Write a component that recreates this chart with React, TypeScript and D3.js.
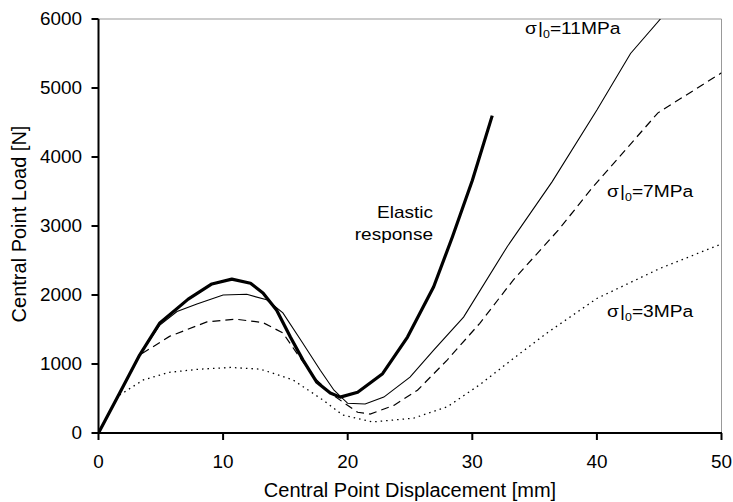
import React from "react";
import * as d3 from "d3";

const xTicks = [0, 10, 20, 30, 40, 50];
const yTicks = [0, 1000, 2000, 3000, 4000, 5000, 6000];

const elasticX = [0, 1.7, 3.3, 4.9, 7.2, 9.1, 10.7, 12.2, 13.2, 14.3, 15.4, 16.4, 17.5, 18.6, 19.4, 20.8, 22.8, 24.8, 26.9, 28.4, 30, 31.6];
const elasticY = [0, 580, 1130, 1590, 1940, 2160, 2230, 2170, 2030, 1780, 1390, 1060, 740, 580, 520, 590, 860, 1390, 2120, 2840, 3660, 4600];

const s11X = [0, 1.7, 3.3, 4.9, 6.3, 7.9, 10, 11.9, 13.5, 14.8, 16.4, 17.8, 18.9, 20, 21.4, 22.9, 25, 26.9, 29.3, 32.8, 36.4, 40, 42.7, 45.1];
const s11Y = [0, 580, 1130, 1560, 1760, 1870, 2000, 2010, 1930, 1740, 1300, 910, 620, 430, 420, 520, 810, 1200, 1680, 2700, 3640, 4680, 5500, 6000];

const s7X = [0, 1.7, 3.3, 5.7, 8.7, 11, 13.2, 14.8, 15.9, 17.5, 18.6, 19.6, 20.8, 21.8, 23.7, 25.6, 28, 30.6, 33.3, 36.9, 39.7, 44.9, 50];
const s7Y = [0, 580, 1130, 1400, 1610, 1650, 1600, 1450, 1160, 770, 580, 450, 300, 275, 400, 620, 1060, 1590, 2220, 2940, 3570, 4640, 5220];

const s3X = [1.7, 3.6, 5.7, 8.1, 10.6, 13, 15.6, 18, 19.6, 22, 25.3, 28, 30.6, 33.3, 36, 40, 45, 50];
const s3Y = [550, 770, 880, 925, 950, 925, 770, 480, 260, 160, 215, 380, 700, 1080, 1450, 1950, 2380, 2740];

const W = 733, H = 502;
const L = 98.5, R = 721.5, T = 19, B = 433;
const FONT = "Liberation Sans, Arial, sans-serif";

function T2({ x, y, anchor = "start", rotate = 0, size = 17, sx = 1, children }: any) {
  return (
    <g transform={`translate(${x},${y}) rotate(${rotate}) scale(${sx},1)`}>
      <text x={0} y={0} textAnchor={anchor} fontSize={size} fontFamily={FONT} fill="#000">
        {children}
      </text>
    </g>
  );
}

export default function App() {
  const x = d3.scaleLinear().domain([0, 50]).range([L, R]);
  const y = d3.scaleLinear().domain([0, 6000]).range([B, T]);
  const line = (xs: number[], ys: number[]) =>
    d3.line<number>().x((_, i) => x(xs[i])).y((d) => y(d)).curve(d3.curveLinear)(ys) || "";
  const sigma = (tx: number, ty: number, val: string) => (
    <T2 x={tx} y={ty} sx={1.13}>
      <tspan>σ</tspan>
      <tspan dx={1}>|</tspan>
      <tspan fontSize={11} dy={4}>0</tspan>
      <tspan dy={-4}>{"=" + val}</tspan>
    </T2>
  );
  return (
    <svg width={W} height={H} style={{ position: "absolute", left: 0, top: 0, background: "#fff" }}>
      <defs>
        <clipPath id="plot">
          <rect x={L} y={T} width={R - L} height={B - T} />
        </clipPath>
      </defs>
      <rect x={0} y={0} width={W} height={H} fill="#fff" />
      <line x1={L} x2={R} y1={T} y2={T} stroke="#999" strokeWidth={1} />
      <line x1={R} x2={R} y1={T} y2={B} stroke="#999" strokeWidth={1} />
      <g clipPath="url(#plot)" fill="none" stroke="#000">
        <path d={line(s3X, s3Y)} strokeWidth={1.3} strokeDasharray="1.5,4" />
        <path d={line(s7X, s7Y)} strokeWidth={1.2} strokeDasharray="8,5" />
        <path d={line(s11X, s11Y)} strokeWidth={1.1} />
        <path d={line(elasticX, elasticY)} strokeWidth={3.2} strokeLinejoin="round" />
      </g>
      <line x1={L} x2={L} y1={T} y2={B + 1} stroke="#000" strokeWidth={2} />
      <line x1={L - 1} x2={R + 0.5} y1={B} y2={B} stroke="#000" strokeWidth={2} />
      {yTicks.map((t) => (
        <g key={"y" + t}>
          <line x1={L - 7} x2={L} y1={y(t)} y2={y(t)} stroke="#000" strokeWidth={2} />
          <T2 x={82} y={y(t) + 6.3} anchor="end" size={17.5} sx={1.08}>{t}</T2>
        </g>
      ))}
      {xTicks.map((t) => (
        <g key={"x" + t}>
          <line x1={x(t)} x2={x(t)} y1={B} y2={B + 7} stroke="#000" strokeWidth={2} />
          <T2 x={x(t)} y={468} anchor="middle" size={17.5} sx={1.08}>{t}</T2>
        </g>
      ))}
      <T2 x={410} y={497} anchor="middle" size={20}>Central Point Displacement [mm]</T2>
      <T2 x={26} y={224} anchor="middle" rotate={-90} size={20}>Central Point Load [N]</T2>
      {sigma(525, 34, "11MPa")}
      {sigma(607, 197, "7MPa")}
      {sigma(607, 317, "3MPa")}
      <T2 x={433} y={218} anchor="end" sx={1.12}>Elastic</T2>
      <T2 x={433} y={240} anchor="end" sx={1.12}>response</T2>
    </svg>
  );
}
